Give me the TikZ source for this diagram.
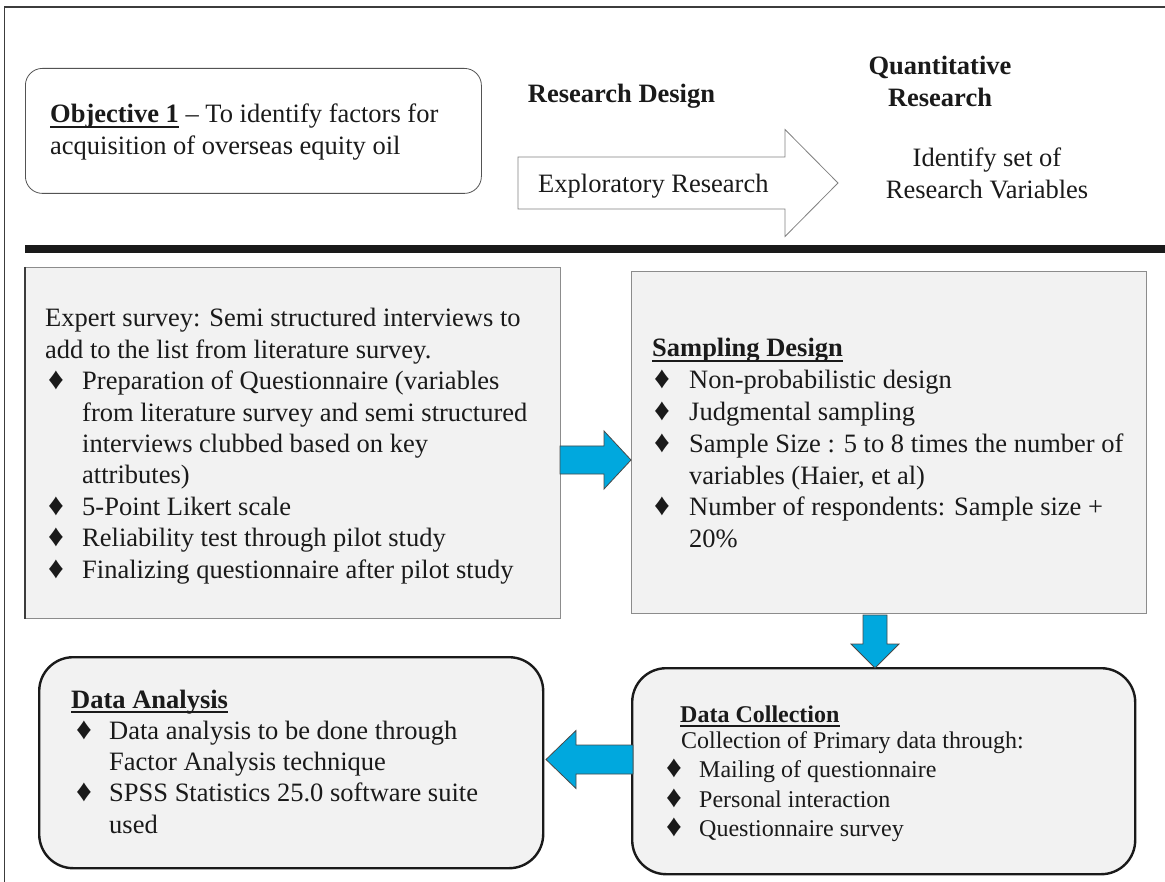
\documentclass[tikz,border=0pt]{standalone}
\usepackage{fontspec}
\setmainfont{Liberation Serif}
\definecolor{ink}{HTML}{1A1A1A}
\definecolor{panel}{HTML}{F2F2F2}
\definecolor{edge}{HTML}{8C8C8C}
\definecolor{flow}{RGB}{0,168,222}
% bullet glyph and helpers for the hand-broken lists
\newcommand\dmd{{\fontsize{31}{31}\selectfont\char"2666}}
\newcommand\itm[2]{\makebox[#2][l]{\hspace*{#1}\dmd}}
\newcommand\hdul[1]{\leavevmode\sbox0{#1}\rlap{\rule[-5pt]{\wd0}{1.6pt}}\usebox0}
\tikzset{
  frameline/.style={draw=ink!85, line width=1.2pt},
  objbox/.style={draw=ink!75, line width=0.8pt, rounded corners=17pt, fill=white, inner sep=0pt},
  flatbox/.style={draw=edge, line width=1.2pt, fill=panel, inner sep=0pt},
  roundbox/.style={draw=ink, line width=2.4pt, rounded corners=34pt, fill=panel, inner sep=0pt},
  txt/.style={inner sep=0pt, text=ink, font=\fontsize{26.5}{31.4}\selectfont},
  bluearrow/.style={draw=ink!80, line width=0.8pt, fill=flow},
  pics/barrow/.style n args={4}{code={
    \path[pic actions] (0,-#2) -- ({#1-#4},-#2) -- ({#1-#4},-#3) -- (#1,0)
      -- ({#1-#4},#3) -- ({#1-#4},#2) -- (0,#2) -- cycle;}}
}
\begin{document}
\begin{tikzpicture}[x=1pt,y=-1pt]
\useasboundingbox (0,0) rectangle (1165,882);
\fill[white] (0,0) rectangle (1165,882);

% page frame
\draw[frameline] (4.6,882) -- (4.6,7) -- (1165,7);

% objective and research design band
\node[objbox, minimum width=456pt, minimum height=125pt, anchor=north west] (obj) at (25,68) {};
\node[txt, anchor=base west] (objtxt) at (50,123)
  {\parbox[t]{440pt}{\fontsize{26.5}{32}\selectfont
   \hdul{\textbf{Objective 1}} – To identify factors for\\
   acquisition of overseas equity oil}};

\node[txt, anchor=base] (rd) at (621.5,103) {\textbf{Research Design}};

\pic[draw=ink!55, line width=0.8pt, fill=white] (explore) at (518,183) {barrow={320}{26}{53.5}{53}};
\node[txt, anchor=base west] (exptxt) at (538,193) {Exploratory Research};

\node[txt, anchor=base] (quant) at (940,75)
  {\parbox[t]{220pt}{\centering\fontsize{26.5}{32}\selectfont\textbf{Quantitative}\\\textbf{Research}}};
\node[txt, anchor=base] (ident) at (987,167)
  {\parbox[t]{260pt}{\centering\fontsize{26.5}{32}\selectfont Identify set of\\Research Variables}};

% divider
\fill[ink] (25,245) rectangle (1165,253);

% survey and sampling panels
\node[flatbox, minimum width=535pt, minimum height=351pt, anchor=north west] (survey) at (25,267) {};
\draw[ink!85, line width=1.2pt] (survey.north west) -- (survey.south west);
\node[txt, anchor=base west] (surveytxt) at (45,327)
  {\parbox[t]{520pt}{%
   Expert survey: Semi structured interviews to\\
   add to the list from literature survey.\\
   \itm{3pt}{37pt}Preparation of Questionnaire (variables\\
   \hspace*{37pt}from literature survey and semi structured\\
   \hspace*{37pt}interviews clubbed based on key\\
   \hspace*{37pt}attributes)\\
   \itm{3pt}{37pt}5-Point Likert scale\\
   \itm{3pt}{37pt}Reliability test through pilot study\\
   \itm{3pt}{37pt}Finalizing questionnaire after pilot study}};

\node[flatbox, minimum width=515pt, minimum height=342pt, anchor=north west] (sampling) at (631,271) {};
\node[txt, anchor=base west] (samplingtxt) at (652,357)
  {\parbox[t]{500pt}{\fontsize{26.5}{31.8}\selectfont
   \hdul{\textbf{Sampling Design}}\\
   \itm{2pt}{37pt}Non-probabilistic design\\
   \itm{2pt}{37pt}Judgmental sampling\\
   \itm{2pt}{37pt}Sample Size : 5 to 8 times the number of\\
   \hspace*{37pt}variables (Haier, et al)\\
   \itm{2pt}{37pt}Number of respondents: Sample size +\\
   \hspace*{37pt}20\%}};

% analysis and collection panels
\node[roundbox, minimum width=504pt, minimum height=211pt, anchor=north west] (analysis) at (38,656) {};
\node[txt, anchor=base west] (analysistxt) at (71,708)
  {\parbox[t]{480pt}{\fontsize{26.5}{31.3}\selectfont
   \hdul{\textbf{Data Analysis}}\\
   \itm{5pt}{38pt}Data analysis to be done through\\
   \hspace*{38pt}Factor Analysis technique\\
   \itm{5pt}{38pt}SPSS Statistics 25.0 software suite\\
   \hspace*{38pt}used}};

\node[roundbox, minimum width=503pt, minimum height=206pt, anchor=north west] (collection) at (631,667) {};
\node[txt, anchor=base west] (collectiontxt) at (666,722)
  {\parbox[t]{460pt}{\fontsize{24}{29.5}\selectfont
   \hspace*{14pt}\hdul{\textbf{Data Collection}}\\[-3.5pt]
   \hspace*{15pt}Collection of Primary data through:\\
   \itm{0pt}{33pt}Mailing of questionnaire\\
   \itm{0pt}{33pt}Personal interaction\\
   \itm{0pt}{33pt}Questionnaire survey}};

% flow arrows between the panels
\pic[bluearrow] (toSampling) at (560,460) {barrow={71}{14}{29}{27}};
\pic[bluearrow, rotate=-90] (toCollection) at (875,615) {barrow={53}{12}{24}{24}};
\pic[bluearrow, rotate=180] (toAnalysis) at (633,759.5) {barrow={87}{14.5}{29}{30}};
\end{tikzpicture}
\end{document}
